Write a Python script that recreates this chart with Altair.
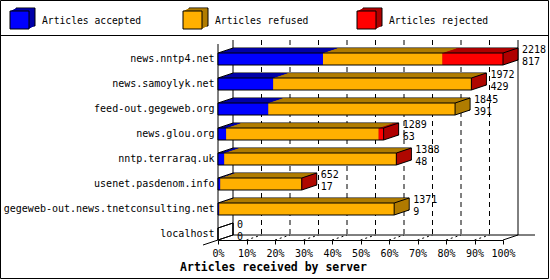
import altair as alt
import pandas as pd

# ---- data ----
hosts = ["news.nntp4.net", "news.samoylyk.net", "feed-out.gegeweb.org", "news.glou.org",
         "nntp.terraraq.uk", "usenet.pasdenom.info", "gegeweb-out.news.tnetconsulting.net", "localhost"]
total = [2218, 1972, 1845, 1289, 1388, 652, 1371, 0]
accepted = [817, 429, 391, 63, 48, 17, 9, 0]
rejected = [472, 3, 0, 39, 3, 4, 0, 0]
refused = [t - a - r for t, a, r in zip(total, accepted, rejected)]
series = ["Articles accepted", "Articles refused", "Articles rejected"]
front_colors = ["#0000ff", "#ffb000", "#ff0000"]
dark_colors = ["#0000a8", "#b07c00", "#b00000"]
tick_values = [0, 10, 20, 30, 40, 50, 60, 70, 80, 90, 100]
axis_title = "Articles received by server"

FONT = "DejaVu Sans Mono"
DEPTH = 15          # px of 3D depth (x), y depth = DEPTH/3
OX, OY = 218, 53    # plot origin in the page
W, H = 285, 187

max_total = max(total)
seg_rows, side_rows, host_rows = [], [], []
for i, h in enumerate(hosts):
    vals = [accepted[i], refused[i], rejected[i]]
    start = 0
    last = None
    for j, v in enumerate(vals):
        if v > 0:
            seg_rows.append(dict(host=h, x0=start / max_total * 100, x1=(start + v) / max_total * 100,
                                 front=front_colors[j], dark=dark_colors[j]))
            last = j
        start += v
    end = total[i] / max_total * 100
    host_rows.append(dict(host=h, zero=0.0, end=end, total=total[i], acc=accepted[i]))
    if last is not None:
        side_rows.append(dict(host=h, end=end, dark=dark_colors[last]))

seg_df = pd.DataFrame(seg_rows)
side_df = pd.DataFrame(side_rows)
host_df = pd.DataFrame(host_rows)
diag_df = pd.concat([host_df.assign(xs=host_df["zero"]), host_df.assign(xs=host_df["end"])])
tick_df = pd.DataFrame({"p": tick_values})
one = alt.Data(values=[{"a": 1}])

xscale = alt.Scale(domain=[0, 100], nice=False, zero=True)
yscale = alt.Scale(domain=hosts, paddingInner=0.52, paddingOuter=0)


def X(field):
    return alt.X(field, type="quantitative", scale=xscale, title=None,
                 axis=alt.Axis(values=tick_values, labelExpr="datum.value + '%'", grid=False,
                               tickSize=4, labelPadding=4, labelFlush=False, labelOverlap=False,
                               domainColor="black", tickColor="black", labelColor="black",
                               labelFont=FONT, labelFontSize=10))


def X2(field):
    return alt.X2(field)


def Y():
    return alt.Y("host:N", sort=hosts, scale=yscale, title=None,
                 axis=alt.Axis(ticks=False, domain=False, labelPadding=4, labelLimit=400,
                               labelFont=FONT, labelFontSize=10, labelColor="black"))


layers = []

# outer border and legend separator
layers.append(alt.Chart(one).mark_rect(fill="transparent", stroke="black", strokeWidth=1).encode(
    x=alt.value(0.5 - OX), x2=alt.value(548.5 - OX), y=alt.value(0.5 - OY), y2=alt.value(278.5 - OY)))
layers.append(alt.Chart(one).mark_rule(color="black").encode(
    x=alt.value(0 - OX), x2=alt.value(548 - OX), y=alt.value(35.5 - OY)))

# legend
leg_x = [10, 183, 357]
for i in range(3):
    lx = leg_x[i] - OX
    ly0, ly1 = 11 - OY, 29 - OY
    for k in range(6, 0, -1):
        layers.append(alt.Chart(one).mark_rect(fill=dark_colors[i],
                                               stroke="black" if k == 6 else "transparent",
                                               strokeWidth=1).encode(
            x=alt.value(lx + k), x2=alt.value(lx + 19 + k),
            y=alt.value(ly0 - k / 2), y2=alt.value(ly1 - k / 2)))
    layers.append(alt.Chart(one).mark_rect(fill=front_colors[i], stroke="black", strokeWidth=1).encode(
        x=alt.value(lx), x2=alt.value(lx + 19), y=alt.value(ly0), y2=alt.value(ly1)))
    layers.append(alt.Chart(one).mark_text(align="left", baseline="middle", font=FONT, fontSize=9.7,
                                           color="black").encode(
        x=alt.value(lx + 32), y=alt.value(20.5 - OY), text=alt.value(series[i])))

# back plane grid lines
solid = tick_df[tick_df["p"].isin([0, 100])]
dashed = tick_df[~tick_df["p"].isin([0, 100])]
layers.append(alt.Chart(dashed).mark_rule(color="black", strokeDash=[5, 4], xOffset=DEPTH).encode(
    x=X("p"), y=alt.value(40 - OY), y2=alt.value(235 - OY)))
layers.append(alt.Chart(solid).mark_rule(color="black", xOffset=DEPTH).encode(
    x=X("p"), y=alt.value(40 - OY), y2=alt.value(235 - OY)))
# floor
layers.append(alt.Chart(one).mark_rule(color="black").encode(
    x=alt.value(DEPTH), x2=alt.value(535 - OX), y=alt.value(235 - OY)))
layers.append(alt.Chart(dashed).mark_rule(color="black", strokeDash=[2, 3], x2Offset=DEPTH).encode(
    x=X("p"), x2=X2("p"), y=alt.value(H), y2=alt.value(H - DEPTH / 3)))
layers.append(alt.Chart(tick_df[tick_df["p"] == 100]).mark_rule(color="black", x2Offset=DEPTH).encode(
    x=X("p"), x2=X2("p"), y=alt.value(H), y2=alt.value(H - DEPTH / 3)))
layers.append(alt.Chart(tick_df[tick_df["p"] == 0]).mark_rule(color="black", xOffset=-DEPTH, x2Offset=DEPTH).encode(
    x=X("p"), x2=X2("p"), y=alt.value(H + DEPTH / 3), y2=alt.value(H - DEPTH / 3)))
# front left axis line
layers.append(alt.Chart(one).mark_rule(color="black").encode(
    x=alt.value(0), y=alt.value(44 - OY), y2=alt.value(H)))

# 3D bars: extruded copies from back to front
for k in range(DEPTH, 0, -1):
    dy = -k / 3
    layers.append(alt.Chart(seg_df).mark_bar(xOffset=k, x2Offset=k, yOffset=dy, y2Offset=dy,
                                            strokeWidth=0).encode(
        x=X("x0"), x2=X2("x1"), y=Y(), fill=alt.Fill("dark:N", scale=None)))
    layers.append(alt.Chart(side_df).mark_bar(xOffset=k - 1.2, x2Offset=k, yOffset=dy, y2Offset=dy,
                                             strokeWidth=0).encode(
        x=X("end"), x2=X2("end"), y=Y(), fill=alt.Fill("dark:N", scale=None)))
    if k == DEPTH:
        layers.append(alt.Chart(host_df).mark_bar(xOffset=k, x2Offset=k, yOffset=dy, y2Offset=dy,
                                                 fill="transparent", stroke="black", strokeWidth=1).encode(
            x=X("zero"), x2=X2("end"), y=Y()))

# front faces
layers.append(alt.Chart(seg_df).mark_bar(strokeWidth=0).encode(
    x=X("x0"), x2=X2("x1"), y=Y(), fill=alt.Fill("front:N", scale=None)))
layers.append(alt.Chart(host_df).mark_bar(fill="transparent", stroke="black", strokeWidth=1).encode(
    x=X("zero"), x2=X2("end"), y=Y()))
# diagonal edges
layers.append(alt.Chart(diag_df).mark_rule(color="black", x2Offset=DEPTH, yOffset=-6, y2Offset=-6 - DEPTH / 3).encode(
    x=X("xs"), x2=X2("xs"), y=Y(), y2=alt.Y2("host")))
layers.append(alt.Chart(host_df).mark_rule(color="black", x2Offset=DEPTH, yOffset=6, y2Offset=6 - DEPTH / 3).encode(
    x=X("end"), x2=X2("end"), y=Y(), y2=alt.Y2("host")))

# value labels
layers.append(alt.Chart(host_df).mark_text(align="left", baseline="middle", dx=DEPTH + 4, dy=-9,
                                          font=FONT, fontSize=10, color="black").encode(
    x=X("end"), y=Y(), text="total:Q"))
layers.append(alt.Chart(host_df).mark_text(align="left", baseline="middle", dx=DEPTH + 4, dy=3,
                                          font=FONT, fontSize=10, color="black").encode(
    x=X("end"), y=Y(), text="acc:Q"))

# axis title
layers.append(alt.Chart(one).mark_text(align="center", baseline="middle", font=FONT, fontSize=11.5,
                                       fontWeight="bold", color="black").encode(
    x=alt.value(273.5 - OX), y=alt.value(267.5 - OY), text=alt.value(axis_title)))

chart = alt.layer(*layers).properties(
    width=W, height=H,
    autosize=alt.AutoSizeParams(type="none"),
    padding={"left": OX, "top": OY, "right": 550 - OX - W, "bottom": 280 - OY - H},
    background="white",
).configure_view(stroke=None)

chart.save("out.html", embed_options={"renderer": "svg", "actions": False})
